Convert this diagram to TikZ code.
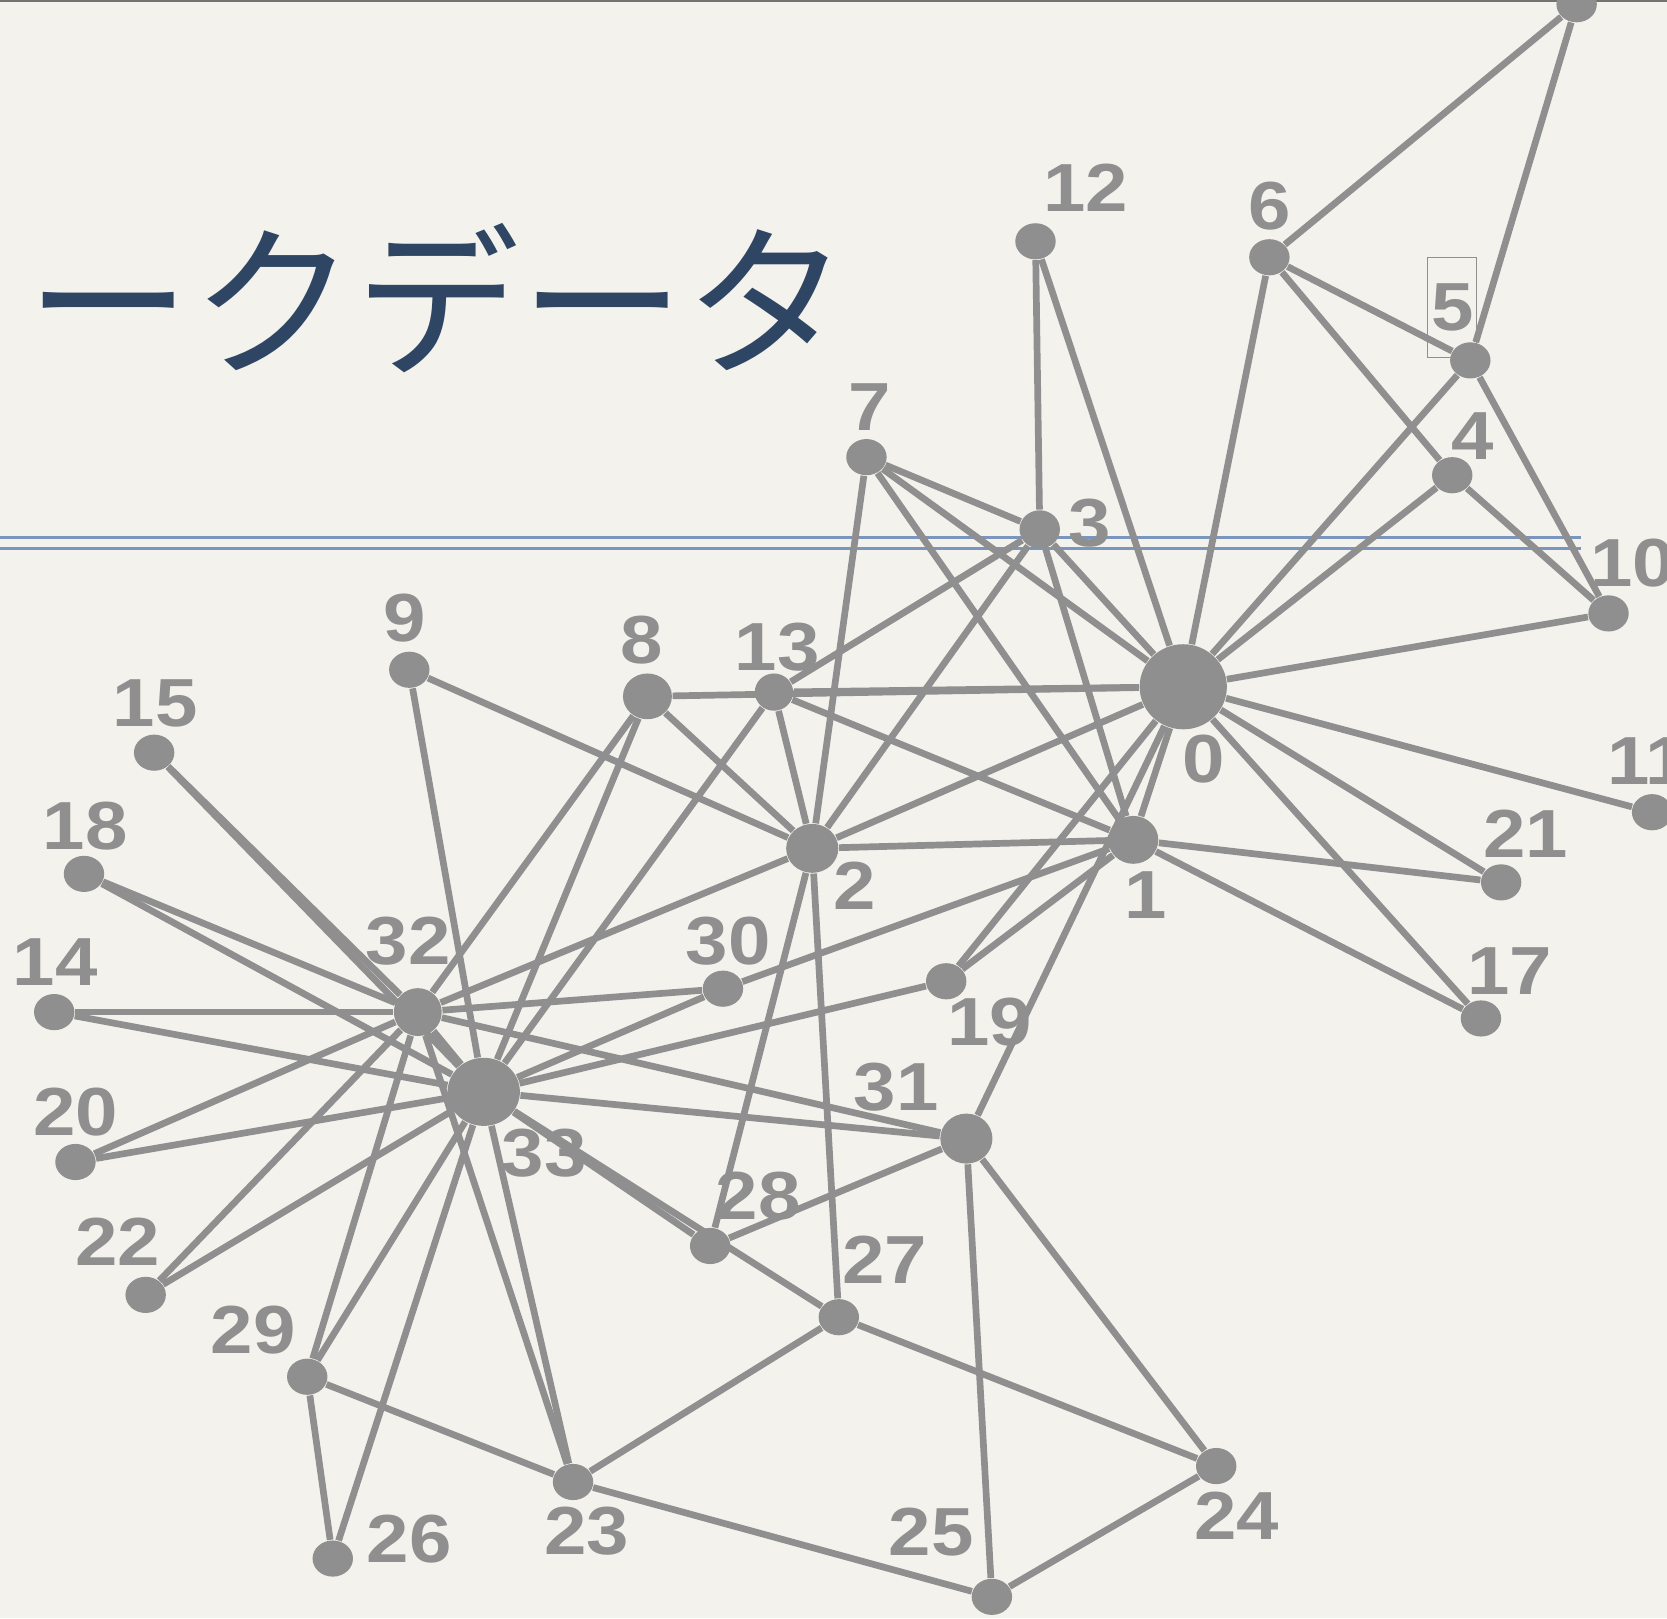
\documentclass[tikz,border=0pt]{standalone}
\usepackage{fontspec}
\usetikzlibrary{shapes.geometric}
\newfontfamily\lblfont{Liberation Sans}[FakeStretch=1.12]
\newfontfamily\jpfont{Noto Sans CJK JP}
\definecolor{bg}{RGB}{244,242,236}
\definecolor{ng}{RGB}{143,143,143}
\definecolor{tblue}{RGB}{46,69,99}
\definecolor{rulec}{RGB}{122,150,190}
\begin{document}
\begin{tikzpicture}[x=0.01cm,y=-0.01cm,
  dot/.style={ellipse, fill=ng, inner sep=0pt, minimum width=3.8mm, minimum height=3.4mm},
  lbl/.style={text=ng, font=\lblfont\bfseries\fontsize{18.2pt}{18.2pt}\selectfont, inner sep=0pt},
  edge/.style={draw=ng, line width=0.063cm},
  rulel/.style={draw=rulec, line width=0.028cm}]
\useasboundingbox (0,0) rectangle (1568,1522);
\fill[bg] (0,0) rectangle (1568,1522);
\clip (0,0) rectangle (1568,1522);
\draw[draw={rgb,255:red,115;green,115;blue,115}, line width=0.02cm] (0,1) -- (1568,1);
% title
\node[font=\jpfont\fontsize{44pt}{44pt}\selectfont, text=tblue, inner sep=0pt] (title) at (412,280) {ークデータ};
% rules
\coordinate (r1a) at (0,506); \coordinate (r1b) at (1487,506);
\coordinate (r2a) at (0,516); \coordinate (r2b) at (1487,516);
\draw[rulel] (r1a) -- (r1b);
\draw[rulel] (r2a) -- (r2b);
% nodes
\node[dot, minimum width=8.2mm, minimum height=8mm] (n0) at (1113,646) {};
\node[dot, minimum width=4.7mm, minimum height=4.5mm] (n1) at (1066,790) {};
\node[dot, minimum width=4.9mm, minimum height=4.6mm] (n2) at (764,798) {};
\node[dot, minimum width=3.8mm, minimum height=3.6mm] (n3) at (978,498) {};
\node[dot] (n4) at (1366,447) {};
\node[dot] (n5) at (1383,339) {};
\node[dot] (n6) at (1194,242) {};
\node[dot] (n7) at (815,430) {};
\node[dot, minimum width=4.6mm, minimum height=4.3mm] (n8) at (609,655) {};
\node[dot] (n9) at (385,630) {};
\node[dot] (n10) at (1513,577) {};
\node[dot] (n11) at (1554,764) {};
\node[dot] (n12) at (974,227) {};
\node[dot, minimum width=3.6mm, minimum height=3.5mm] (n13) at (728,651) {};
\node[dot] (n14) at (51,952) {};
\node[dot] (n15) at (145,708) {};
\node[dot] (n16) at (1483,4) {};
\node[dot] (n17) at (1393,958) {};
\node[dot] (n18) at (79,822) {};
\node[dot] (n19) at (890,923) {};
\node[dot] (n20) at (71,1093) {};
\node[dot] (n21) at (1412,830) {};
\node[dot] (n22) at (137,1218) {};
\node[dot] (n23) at (539,1394) {};
\node[dot] (n24) at (1144,1379) {};
\node[dot] (n25) at (933,1502) {};
\node[dot] (n26) at (313,1466) {};
\node[dot] (n27) at (789,1239) {};
\node[dot] (n28) at (668,1172) {};
\node[dot] (n29) at (289,1295) {};
\node[dot] (n30) at (680,930) {};
\node[dot, minimum width=4.9mm, minimum height=4.7mm] (n31) at (909,1071) {};
\node[dot, minimum width=4.5mm, minimum height=4.5mm] (n32) at (393,952) {};
\node[dot, minimum width=6.8mm, minimum height=6.4mm] (n33) at (455,1027) {};
% edges
\foreach \a/\b in {0/1,0/2,0/3,0/4,0/5,0/6,0/7,0/8,0/10,0/11,0/12,0/13,0/17,0/19,0/21,0/31,
  1/2,1/3,1/7,1/13,1/17,1/19,1/21,1/30,
  2/3,2/7,2/8,2/9,2/13,2/27,2/28,2/32,
  3/7,3/12,3/13,4/6,4/10,5/6,5/10,5/16,6/16,
  8/32,8/33,9/33,13/33,14/32,14/33,15/32,15/33,18/32,18/33,19/33,20/32,20/33,22/32,22/33,
  23/25,23/27,23/29,23/32,23/33,24/25,24/27,24/31,25/31,26/29,26/33,
  27/33,28/31,28/33,29/32,29/33,30/32,30/33,31/32,31/33,32/33}
  \draw[edge] (n\a) -- (n\b);
% labels
\foreach \i/\x/\y in {0/1132/714,1/1078/842,2/804/833,3/1025/492,4/1385/410,6/1194/194,
  7/818/383,8/604/602,9/381/581,10/1536/530,11/1550/716,12/1021/177,13/731/609,
  14/52/905,15/146/662,17/1420/913,18/80/777,19/931/961,20/71/1046,21/1435/784,
  22/111/1168,23/552/1440,24/1163/1426,25/876/1441,26/385/1448,27/832/1185,
  28/713/1125,29/238/1251,30/685/885,31/843/1023,32/384/885,33/512/1085}
  \node[lbl] (l\i) at (\x,\y) {\i};
\node[lbl, draw=ng, line width=0.01cm, minimum width=4.6mm, minimum height=9.4mm] (l5) at (1366,289) {5};
\end{tikzpicture}
\end{document}
